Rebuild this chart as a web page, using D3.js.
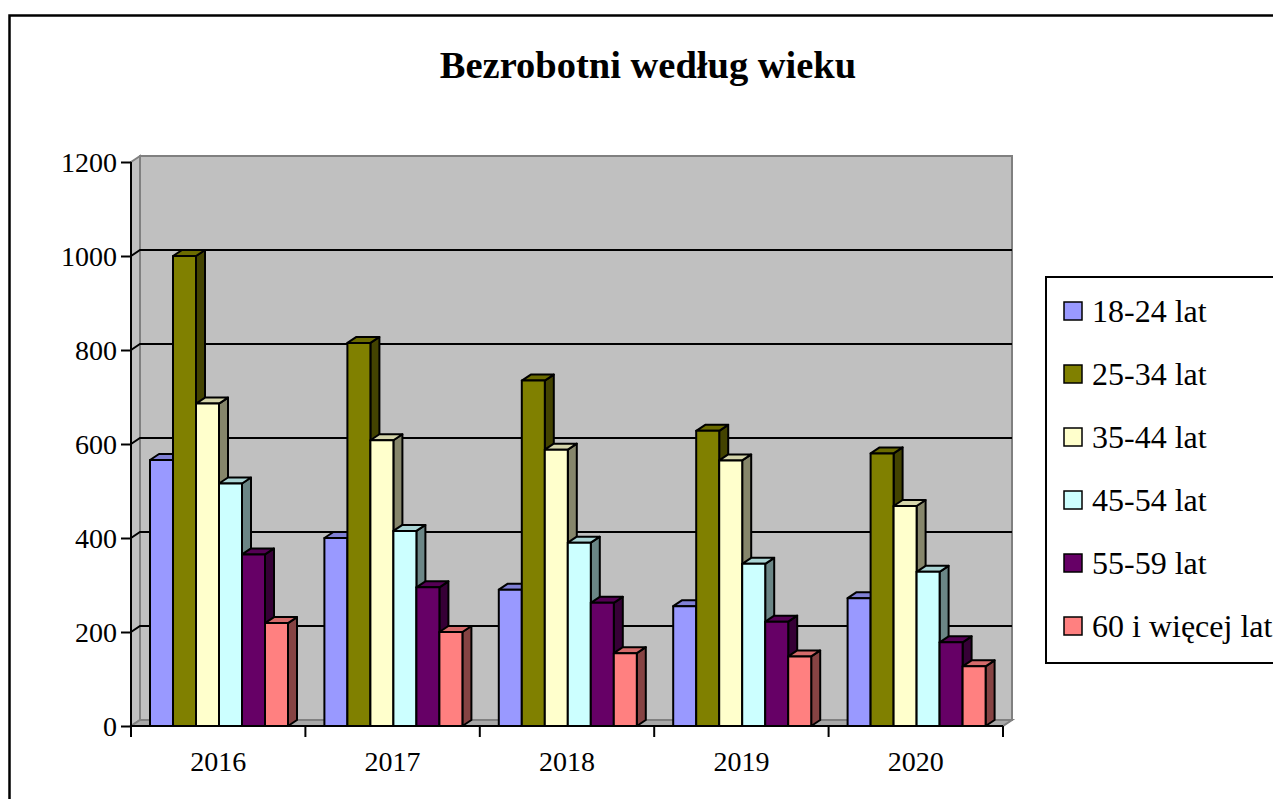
<!DOCTYPE html>
<html>
<head>
<meta charset="utf-8">
<script src="https://cdn.jsdelivr.net/npm/d3@7"></script>
<style>
  html, body { margin: 0; padding: 0; background: #fff; }
  svg { display: block; font-family: "Times New Roman", "Liberation Serif", serif; }
</style>
</head>
<body>
<svg id="chart" width="1273" height="799"></svg>
<script>
const years = [`2016`, `2017`, `2018`, `2019`, `2020`];
const groups = [`18-24 lat`, `25-34 lat`, `35-44 lat`, `45-54 lat`, `55-59 lat`, `60 i więcej lat`];
const colors = [`#9999ff`, `#808000`, `#ffffcc`, `#ccffff`, `#660066`, `#ff8080`];

// one array per age group, values by year
const age18 = [566, 400, 290, 255, 272];
const age25 = [1000, 815, 735, 628, 580];
const age35 = [686, 608, 588, 565, 468];
const age45 = [516, 415, 390, 345, 328];
const age55 = [365, 295, 262, 222, 178];
const age60 = [219, 200, 155, 148, 127];
const series = [age18, age25, age35, age45, age55, age60];

const yTicks = [0, 200, 400, 600, 800, 1000, 1200];

const svg = d3.select(`#chart`);
const dx = 9, dy = -6;

// frame
svg.append(`rect`)
  .attr(`x`, 9.5).attr(`y`, 15.5).attr(`width`, 1400).attr(`height`, 900)
  .attr(`fill`, `#fff`).attr(`stroke`, `#000`).attr(`stroke-width`, 2.5);

svg.append(`text`)
  .attr(`x`, 648).attr(`y`, 78)
  .attr(`text-anchor`, `middle`)
  .style(`font-size`, `38.5px`).style(`font-weight`, `bold`)
  .text(`Bezrobotni według wieku`);

const x = d3.scaleBand().domain(years).range([131, 1003]);
const xi = d3.scaleBand().domain(groups).range([19, 157]);
const y = d3.scaleLinear().domain([0, 1200]).range([726, 162]);

const x0 = x.range()[0], x1 = x.range()[1];
const yb = y(0), yt = y(1200);

// walls
const wallStyle = sel => sel.attr(`fill`, `#c0c0c0`).attr(`stroke`, `#808080`).attr(`stroke-width`, 2);
svg.append(`rect`)
  .attr(`x`, x0 + dx).attr(`y`, yt + dy)
  .attr(`width`, x1 - x0).attr(`height`, yb - yt)
  .call(wallStyle);
svg.append(`polygon`)
  .attr(`points`, [[x0, yt], [x0 + dx, yt + dy], [x0 + dx, yb + dy], [x0, yb]].join(` `))
  .call(wallStyle);
svg.append(`polygon`)
  .attr(`points`, [[x0, yb], [x0 + dx, yb + dy], [x1 + dx, yb + dy], [x1, yb]].join(` `))
  .call(wallStyle).attr(`fill`, `#a8a8a8`);

// gridlines on the walls
const grid = yTicks.filter(t => t > 0 && t < 1200);
const g = svg.append(`g`).attr(`stroke`, `#000`).attr(`stroke-width`, 2).attr(`fill`, `none`);
grid.forEach(t => {
  g.append(`polyline`)
    .attr(`points`, [[x0, y(t)], [x0 + dx, y(t) + dy], [x1 + dx, y(t) + dy]].join(` `));
});

// bars
const bars = svg.append(`g`).attr(`stroke`, `#000`).attr(`stroke-width`, 2).attr(`stroke-linejoin`, `round`);
years.forEach((yr, j) => {
  groups.forEach((grp, i) => {
    const v = series[i][j];
    const bx = x(yr) + xi(grp);
    const w = xi.bandwidth();
    const top = y(v);
    const c = d3.rgb(colors[i]);
    bars.append(`polygon`)
      .attr(`points`, [[bx + w, top], [bx + w + dx, top + dy], [bx + w + dx, yb + dy], [bx + w, yb]].join(` `))
      .attr(`fill`, c.darker(1.8));
    bars.append(`polygon`)
      .attr(`points`, [[bx, top], [bx + dx, top + dy], [bx + w + dx, top + dy], [bx + w, top]].join(` `))
      .attr(`fill`, c.darker(0.5));
    bars.append(`rect`)
      .attr(`x`, bx).attr(`y`, top).attr(`width`, w).attr(`height`, yb - top)
      .attr(`fill`, c);
  });
});

// y axis
const yAxis = svg.append(`g`)
  .attr(`transform`, `translate(${x0},0)`)
  .call(d3.axisLeft(y).tickValues(yTicks).tickSize(10).tickPadding(4).tickFormat(d3.format(`d`)))
  .attr(`font-family`, null).attr(`font-size`, null);
yAxis.select(`.domain`).attr(`stroke`, `#000`).attr(`stroke-width`, 2).attr(`d`, `M0,${yt}V${yb}`);
yAxis.selectAll(`.tick line`).attr(`stroke`, `#000`).attr(`stroke-width`, 2);
yAxis.selectAll(`.tick text`)
  .attr(`fill`, `#000`).style(`font-size`, `28px`)
  .attr(`dy`, `0.34em`);

// x axis
const xAxis = svg.append(`g`)
  .attr(`transform`, `translate(0,${yb})`)
  .call(d3.axisBottom(x).tickSize(0).tickPadding(25))
  .attr(`font-family`, null).attr(`font-size`, null);
xAxis.select(`.domain`).attr(`stroke`, `#000`).attr(`stroke-width`, 2).attr(`d`, `M${x0},0H${x1}`);
xAxis.selectAll(`.tick text`)
  .attr(`fill`, `#000`).style(`font-size`, `28px`)
  .attr(`dy`, `0.71em`);
const bounds = years.map(d => x(d)).concat([x1]);
xAxis.selectAll(`.bound`)
  .data(bounds)
  .enter().append(`line`)
    .attr(`x1`, d => d).attr(`x2`, d => d)
    .attr(`y1`, 0).attr(`y2`, 11)
    .attr(`stroke`, `#000`).attr(`stroke-width`, 2);

// legend
const legend = svg.append(`g`);
legend.append(`rect`)
  .attr(`x`, 1046).attr(`y`, 277).attr(`width`, 300).attr(`height`, 386)
  .attr(`fill`, `#fff`).attr(`stroke`, `#000`).attr(`stroke-width`, 2);
groups.forEach((grp, i) => {
  const cy = 311 + i * 63;
  legend.append(`rect`)
    .attr(`x`, 1064).attr(`y`, cy - 9).attr(`width`, 18).attr(`height`, 18)
    .attr(`fill`, colors[i]).attr(`stroke`, `#000`).attr(`stroke-width`, 1.5);
  legend.append(`text`)
    .attr(`x`, 1092).attr(`y`, cy + 11)
    .style(`font-size`, `32px`)
    .text(grp);
});
</script>
</body>
</html>
